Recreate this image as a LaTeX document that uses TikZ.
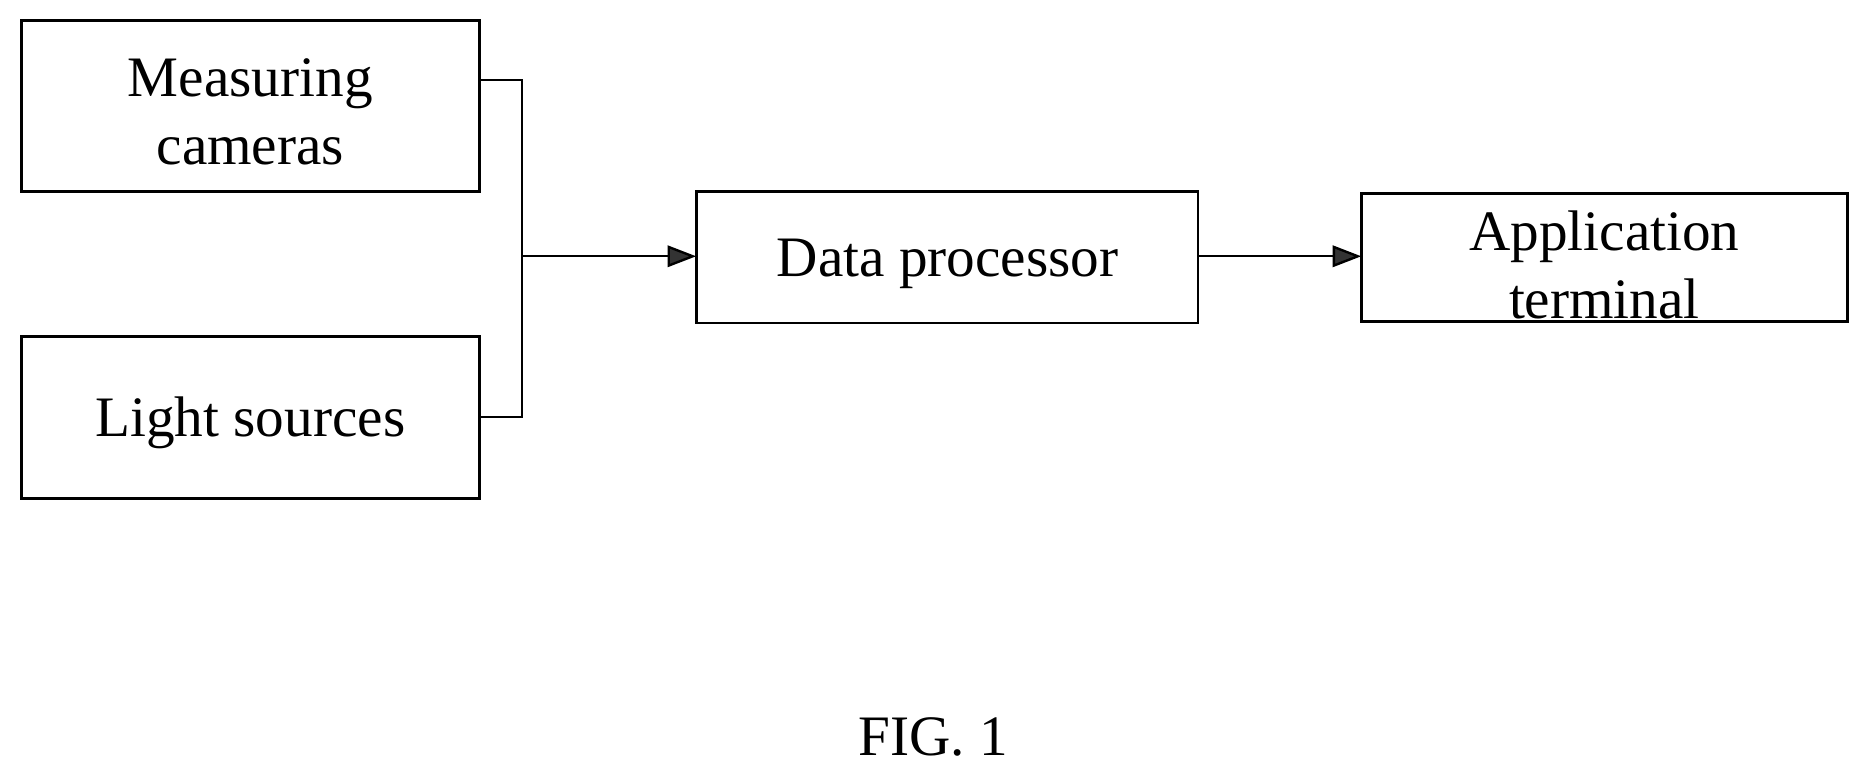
\documentclass[tikz,border=0pt]{standalone}
\usepackage{fontspec}
\setmainfont{Liberation Serif}
\usetikzlibrary{arrows.meta}
\begin{document}
\begin{tikzpicture}[x=0.5pt,y=-0.5pt,
  box/.style={draw,line width=1.2pt},
  lbl/.style={font=\fontsize{24}{28.5}\selectfont,align=center},
  conn/.style={line width=1pt},
  arr/.style={conn,-{Triangle[length=12pt,width=9pt,fill=gray!40!black]}}]
\useasboundingbox (0,0) rectangle (1568,648);
\draw[box] (18,17) rectangle (402,161);
\draw[box] (18,282) rectangle (402,418);
\draw[box] (584,161) rectangle (1005,271);
\draw[box] (1142,162) rectangle (1550,270);
\node[lbl] (mc) at (210,94) {Measuring\\cameras};
\node[lbl] (ls) at (210,355) {Light sources};
\node[lbl] (dp) at (795,221) {Data processor};
\node[lbl] (at) at (1346,222) {Application\\terminal};
\node[lbl] (fig) at (783,618) {FIG. 1};
\coordinate (mcr) at (402,67);
\coordinate (lsr) at (402,350);
\coordinate (j) at (438,215);
\coordinate (dpl) at (584,215);
\coordinate (dpr) at (1005,215);
\coordinate (atl) at (1142,215);
\draw[conn] (mcr) -- (438,67) -- (438,350) -- (lsr);
\draw[arr] (j) -- (dpl);
\draw[arr] (dpr) -- (atl);
\end{tikzpicture}
\end{document}
